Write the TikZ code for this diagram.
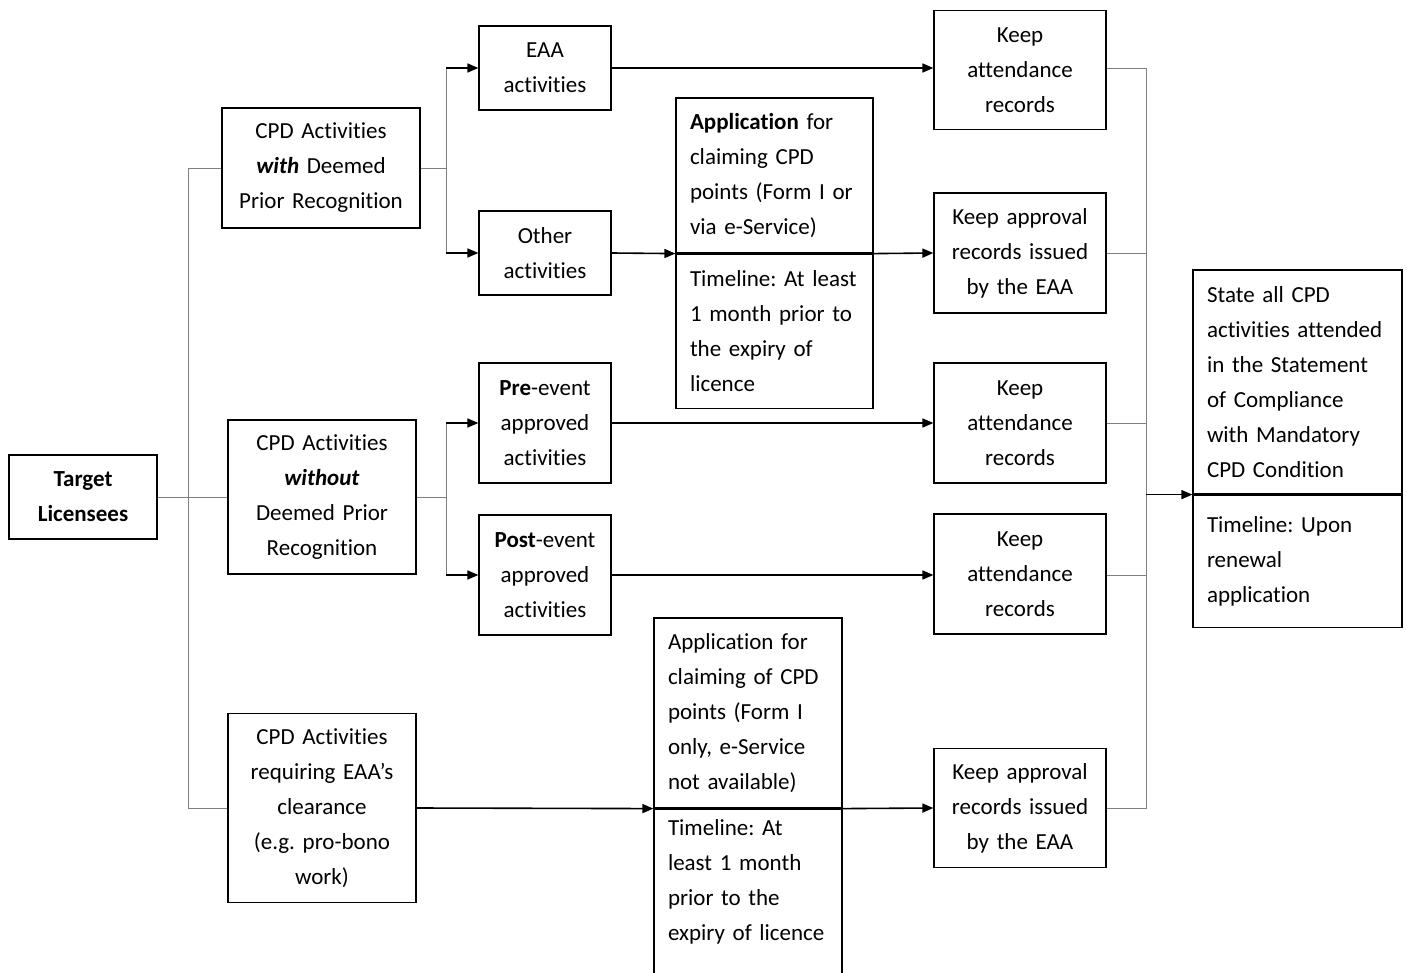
\documentclass[tikz,border=0pt]{standalone}
\usepackage{fontspec}
\setmainfont{Carlito}[Ligatures=NoCommon]
\usetikzlibrary{arrows.meta}

\begin{document}
\begin{tikzpicture}[x=1pt,y=-1pt,
  font=\fontsize{23}{35}\selectfont\frenchspacing,
  box/.style={draw,line width=1.2pt,align=center,inner xsep=6pt,inner ysep=0pt},
  lbox/.style={draw,line width=1.2pt,align=left,inner xsep=14pt,inner ysep=0pt},
  conn/.style={draw=gray,line width=0.9pt},
  arr/.style={line width=1.6pt,-{Triangle[length=11pt,width=9pt]}}]
  \useasboundingbox (0,0) rectangle (1407,973);

  % first column
  \node[box,minimum width=148pt,text width=136pt,minimum height=84pt] (target) at (83,497)
    {\textbf{Target}\\\textbf{Licensees}};

  % second column
  \node[box,minimum width=198pt,text width=186pt,minimum height=120pt] (cpdWith) at (321,168)
    {CPD Activities\\\textbf{\textit{with}} Deemed\\Prior Recognition};
  \node[box,minimum width=188pt,text width=176pt,minimum height=154pt] (cpdWithout) at (322,497)
    {CPD Activities\\\textbf{\textit{without}}\\Deemed Prior\\Recognition};
  \node[box,minimum width=188pt,text width=176pt,minimum height=189pt] (cpdReq) at (322,808)
    {CPD Activities\\requiring EAA’s\\clearance\\(e.g. pro-bono\\work)};

  % third column
  \node[box,minimum width=132pt,text width=120pt,minimum height=84pt] (eaa) at (545,68)
    {EAA\\activities};
  \node[box,minimum width=132pt,text width=120pt,minimum height=84pt] (other) at (545,253)
    {Other\\activities};
  \node[box,minimum width=132pt,text width=120pt,minimum height=120pt] (pre) at (545,423)
    {\textbf{Pre}-event\\approved\\activities};
  \node[box,minimum width=132pt,text width=120pt,minimum height=120pt] (post) at (545,575)
    {\textbf{Post}-event\\approved\\activities};

  % applications
  \node[lbox,minimum width=197pt,text width=169pt,minimum height=155pt] (apTop) at (774.5,175.5)
    {\textbf{Application} for\\claiming CPD\\points (Form I or\\via e-Service)};
  \node[lbox,minimum width=197pt,text width=169pt,minimum height=154pt,anchor=north] (apTopTime) at (apTop.south)
    {Timeline: At least\\1 month prior to\\the expiry of\\licence};
  \node[lbox,minimum width=188pt,text width=160pt,minimum height=190pt] (apBot) at (748,713)
    {Application for\\claiming of CPD\\points (Form I\\only, e-Service\\not available)};
  \node[lbox,minimum width=188pt,text width=160pt,inner ysep=10pt,text depth=170pt,anchor=north] (apBotTime) at (apBot.south)
    {Timeline: At\\least 1 month\\prior to the\\expiry of licence};

  % records
  \node[box,minimum width=172pt,text width=158pt,minimum height=119pt] (keep1) at (1020,70)
    {Keep\\attendance\\records};
  \node[box,minimum width=172pt,text width=158pt,minimum height=120pt] (keepAppr1) at (1020,253)
    {Keep approval\\records issued\\by the EAA};
  \node[box,minimum width=172pt,text width=158pt,minimum height=120pt] (keep2) at (1020,423)
    {Keep\\attendance\\records};
  \node[box,minimum width=172pt,text width=158pt,minimum height=120pt] (keep3) at (1020,574)
    {Keep\\attendance\\records};
  \node[box,minimum width=172pt,text width=158pt,minimum height=119pt] (keepAppr2) at (1020,808)
    {Keep approval\\records issued\\by the EAA};

  % statement
  \node[lbox,minimum width=209pt,text width=181pt,minimum height=224pt] (stateTop) at (1297.5,382)
    {State all CPD\\activities attended\\in the Statement\\of Compliance\\with Mandatory\\CPD Condition};
  \node[lbox,minimum width=209pt,text width=181pt,minimum height=132pt,anchor=north] (stateTime) at (stateTop.south)
    {Timeline: Upon\\renewal\\application};

  % connectors
  \coordinate (busA) at (188,0);
  \coordinate (busB) at (446,0);
  \coordinate (busR) at (1146,0);
  \draw[conn] (cpdWith.west) -| (busA |- cpdReq.west) -- (cpdReq.west);
  \draw[conn] (target.east) -- (cpdWithout.west);

  \draw[conn] (cpdWith.east) -- (cpdWith.east -| busB);
  \draw[conn] (busB |- eaa.west) -- (busB |- other.west);
  \draw[arr] (busB |- eaa.west) -- (eaa.west);
  \draw[arr] (busB |- other.west) -- (other.west);
  \draw[conn] (cpdWithout.east) -- (cpdWithout.east -| busB);
  \draw[conn] (busB |- pre.west) -- (busB |- post.west);
  \draw[arr] (busB |- pre.west) -- (pre.west);
  \draw[arr] (busB |- post.west) -- (post.west);

  \draw[arr] (eaa.east) -- (eaa.east -| keep1.west);
  \draw[arr] (other.east) -- (apTop.south west);
  \draw[arr] (apTop.south east) -- (keepAppr1.west);
  \draw[arr] (pre.east) -- (pre.east -| keep2.west);
  \draw[arr] (post.east) -- (post.east -| keep3.west);
  \draw[arr] (cpdReq.east) -- (apBot.south west);
  \draw[arr] (apBot.south east) -- (keepAppr2.west);

  \draw[conn] (keep1.east |- eaa) -| (busR |- keepAppr2.east) -- (keepAppr2.east);
  \draw[conn] (keepAppr1.east) -- (keepAppr1.east -| busR);
  \draw[conn] (keep2.east |- pre) -- (busR |- pre);
  \draw[conn] (keep3.east |- post) -- (busR |- post);
  \draw[arr] (busR |- stateTop.south west) -- (stateTop.south west);
\end{tikzpicture}
\end{document}
